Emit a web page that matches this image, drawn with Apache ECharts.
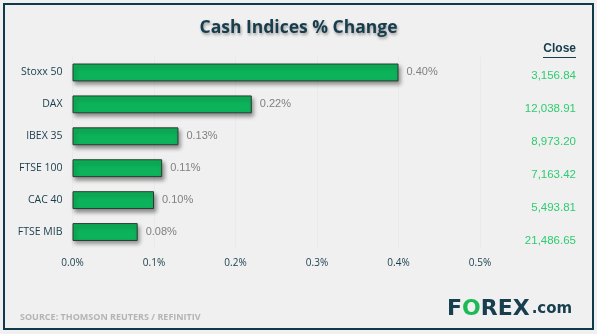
<!DOCTYPE html>
<html>
<head>
<meta charset="utf-8">
<script src="https://cdn.jsdelivr.net/npm/echarts@6/dist/echarts.min.js"></script>
<style>html,body{margin:0;padding:0;background:#f0f0f0;}#c{width:597px;height:334px;}</style>
</head>
<body>
<div id="c"></div>
<script>
var categories = ['Stoxx 50', 'DAX', 'IBEX 35', 'FTSE 100', 'CAC 40', 'FTSE MIB'];
var pctChange = [0.40, 0.22, 0.13, 0.11, 0.10, 0.08];
var closeValues = ['3,156.84', '12,038.91', '8,973.20', '7,163.42', '5,493.81', '21,486.65'];
var xTicks = [0, 0.1, 0.2, 0.3, 0.4, 0.5];

var dark = '#173c4c';
var chart = echarts.init(document.getElementById('c'));
chart.setOption({
  backgroundColor: '#f0f0f0',
  animation: false,
  title: {
    text: 'Cash Indices % Change',
    left: 'center',
    top: 14,
    textStyle: {
      fontFamily: 'Open Sans', fontWeight: 'bold', fontSize: 17.5, color: dark,
      textShadowColor: 'rgba(0,0,0,0.35)', textShadowBlur: 3, textShadowOffsetX: 1, textShadowOffsetY: 2
    }
  },
  grid: [
    { left: 72.5, right: 117, top: 56.5, height: 191.5 },
    { left: 584, width: 1, top: 59.5, height: 198 }
  ],
  xAxis: [
    {
      gridIndex: 0, type: 'value', min: xTicks[0], max: xTicks[xTicks.length - 1], interval: 0.1,
      axisLine: { show: false }, axisTick: { show: false },
      splitLine: { show: true, lineStyle: { color: '#eaeaea', width: 1 } },
      axisLabel: {
        margin: 10, color: dark, fontFamily: 'Open Sans', fontSize: 10,
        formatter: function (v) { return v.toFixed(1) + '%'; }
      }
    },
    { gridIndex: 1, type: 'value', show: false }
  ],
  yAxis: [
    {
      gridIndex: 0, type: 'category', data: categories, inverse: true,
      axisLine: { show: false }, axisTick: { show: false },
      axisLabel: { margin: 10, color: dark, fontFamily: 'Open Sans', fontSize: 10.5 }
    },
    {
      gridIndex: 1, type: 'category', data: closeValues, inverse: true, position: 'left',
      axisLine: { show: false }, axisTick: { show: false },
      axisLabel: { margin: 8, color: '#2ecc71', fontFamily: 'Liberation Sans', fontSize: 11.5 }
    }
  ],
  series: [
    {
      type: 'bar', xAxisIndex: 0, yAxisIndex: 0, data: pctChange, barWidth: '56%',
      itemStyle: {
        color: '#0db35a', borderColor: '#2d3a33', borderWidth: 1,
        shadowColor: 'rgba(0,0,0,0.4)', shadowBlur: 4, shadowOffsetX: 2, shadowOffsetY: 3
      },
      label: {
        show: true, position: 'right', distance: 8, color: '#808080',
        fontFamily: 'Liberation Sans', fontSize: 11,
        formatter: function (p) { return p.value.toFixed(2) + '%'; }
      }
    }
  ],
  graphic: [
    {
      type: 'rect', shape: { x: 4, y: 4, width: 589, height: 325 },
      style: { fill: 'none', stroke: '#0e3a4a', lineWidth: 2 }, z: 100
    },
    {
      type: 'text', right: 21, top: 43,
      style: { text: 'Close', fill: dark, fontFamily: 'Liberation Sans', fontWeight: 'bold', fontSize: 12 }
    },
    {
      type: 'rect', shape: { x: 543, y: 57, width: 33, height: 1 }, style: { fill: dark }
    },
    {
      type: 'text', left: 20, top: 313,
      style: { text: 'SOURCE: THOMSON REUTERS / REFINITIV', fill: '#b4b4b4', fontFamily: 'Open Sans', fontWeight: 'bold', fontSize: 9 }
    },
    {
      type: 'text', left: 447, top: 298,
      style: {
        text: '{a|F}{o|O}{a|REX}{c|.com}',
        rich: {
          a: { fill: '#173f4f', fontFamily: 'DejaVu Sans', fontWeight: 'bold', fontSize: 22 },
          o: { fill: '#1db954', fontFamily: 'DejaVu Sans', fontWeight: 'bold', fontSize: 22 },
          c: { fill: '#173f4f', fontFamily: 'DejaVu Sans', fontWeight: 'bold', fontSize: 15, padding: [0, 0, 0, 2] }
        }
      }
    }
  ]
});
</script>
</body>
</html>
